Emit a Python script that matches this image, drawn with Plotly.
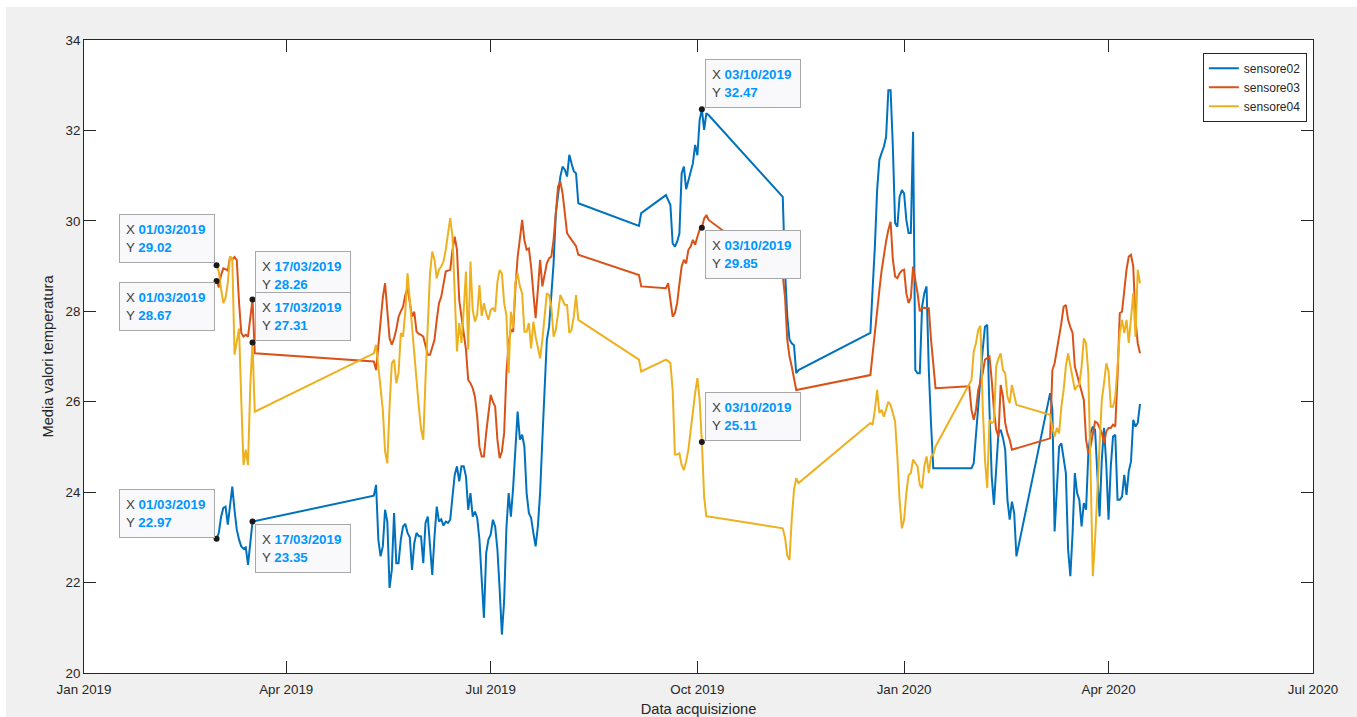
import pandas as pd
import plotly.graph_objects as go

# ---------------- data ----------------
SERIES_NAMES = ["sensore02", "sensore03", "sensore04"]
COLORS = ["#0072BD", "#D95319", "#EDB120"]

# daily readings, grouped in runs of consecutive days: (first day, values)
sensore02_runs = [
    ("2019-03-01", [22.97, 23.1, 23.45, 23.65, 23.68, 23.28, 23.7, 24.12, 23.6, 23.17,
                    22.95, 22.8, 22.75, 22.78, 22.39, 22.9, 23.35]),
    ("2019-05-10", [23.92, 24.16, 22.95, 22.58, 22.8, 23.61, 23.35, 21.88, 22.28, 23.54,
                    22.43, 22.43, 22.95, 23.24, 23.3, 23.1, 23.0, 22.28, 22.87, 23.1,
                    23.03, 23.02, 22.43, 23.32, 23.46, 22.8, 22.17, 23.02, 23.68, 23.35,
                    23.4, 23.26, 23.35, 23.32, 23.39, 23.9, 24.38, 24.57, 24.24, 24.57,
                    24.57, 24.35, 23.61, 23.98, 23.46, 23.57, 23.43, 22.95, 22.21, 21.22,
                    22.65, 22.95, 23.06, 23.39, 23.24, 22.73, 21.84, 20.85, 21.6, 23.2,
                    23.98, 23.46, 24.1, 24.9, 25.78, 25.16, 25.27, 25.01, 23.98, 23.54,
                    23.43, 23.1, 22.8, 23.24, 23.98, 25.16, 26.48, 27.37, 27.66, 28.4,
                    29.06, 30.17, 30.54, 30.98, 31.2, 31.13, 30.98, 31.46, 31.27, 31.1,
                    31.05, 30.39]),
    ("2019-09-05", [29.89, 30.17]),
    ("2019-09-17", [30.57, 30.45, 30.35, 29.5, 29.43, 29.54, 29.72, 31.05, 31.2, 30.7,
                    30.9, 31.05, 31.27, 31.68, 31.45, 32.23, 32.47, 32.01, 32.38, 32.34]),
    ("2019-11-08", [30.53, 28.9, 27.9, 27.37, 27.29, 27.25, 26.63, 26.7]),
    ("2019-12-17", [27.52, 28.5, 29.43, 30.68, 31.35, 31.5, 31.64, 31.86, 32.89, 32.89,
                    31.64, 29.95, 29.87, 30.53, 30.68, 30.61, 30.02, 29.73, 29.73, 31.97,
                    26.7, 26.63, 26.63, 28.1, 28.4, 28.55, 26.7, 25.5, 24.53, 24.53]),
    ("2020-01-31", [24.53, 24.64, 25.3, 26.04, 26.6, 27.15, 27.66, 27.7, 25.82, 24.35,
                    23.72, 24.57, 25.31, 25.38, 25.2, 24.94, 23.83, 23.39, 23.79, 23.54,
                    22.58]),
    ("2020-03-06", [26.19, 25.82, 23.13, 24.12, 25.01, 25.08, 24.72, 24.42, 22.73, 22.14,
                    23.1, 24.42, 23.98, 23.83, 23.24, 23.76, 23.61, 24.86, 25.31, 25.45,
                    25.38, 24.42, 23.46, 24.72, 25.42, 24.6, 23.39, 24.57, 25.23, 25.27,
                    23.83, 23.83, 23.9, 24.38, 23.94, 24.46, 24.68, 25.6, 25.45, 25.53,
                    25.95]),
]

sensore03_runs = [
    ("2019-03-01", [28.67, 28.53, 28.8, 28.95, 28.93, 28.9, 29.21, 29.15, 29.2, 29.13,
                    28.2, 27.52, 27.44, 27.48, 27.44, 27.9, 28.26, 27.07]),
    ("2019-05-10", [26.89, 26.7, 27.3, 27.9, 28.3, 28.62, 27.9, 27.4, 27.26, 27.4,
                    27.6, 27.88, 28.0, 28.1, 28.36, 28.51, 28.2, 27.88, 27.99, 27.55,
                    27.5, 27.48, 27.44, 27.2, 27.04, 27.04, 27.2, 27.37, 27.81, 28.18,
                    28.32, 28.6, 28.88, 28.9, 28.92, 29.36, 29.65, 29.36, 28.25, 27.88,
                    27.5, 27.15, 26.48, 26.41, 26.3, 26.11, 25.67, 25.0, 24.79, 24.79,
                    25.31, 25.7, 26.15, 26.0, 25.89, 25.16, 24.75, 24.9, 25.31, 26.63,
                    27.3, 27.59, 27.55, 28.5, 29.2, 29.6, 30.02, 29.58, 29.36, 29.39,
                    28.99, 28.4, 27.85, 28.47, 29.14, 28.55, 28.77, 29.06, 29.17, 29.21,
                    29.58, 30.24, 30.76, 30.87, 30.61, 30.17, 29.73, 29.65, 29.58, 29.5,
                    29.44, 29.25]),
    ("2019-09-05", [28.8, 28.55]),
    ("2019-09-17", [28.51, 28.62, 28.18, 27.88, 27.96, 28.18, 28.6, 28.99, 29.14, 29.06,
                    29.36, 29.43, 29.58, 29.47, 29.65, 29.8, 29.85, 30.05, 30.13, 30.02]),
    ("2019-11-08", [28.8, 28.32, 27.37, 27.0, 26.78, 26.5, 26.26]),
    ("2019-12-17", [26.59, 27.1, 27.59, 28.0, 28.47, 28.9, 29.28, 29.55, 29.8, 29.98,
                    29.14, 28.77, 28.73, 28.84, 28.9, 28.92, 28.4, 28.18, 28.3, 28.99,
                    28.69, 28.4, 28.0, 28.07, 28.08, 28.08, 28.07, 27.37, 26.8, 26.3]),
    ("2020-01-30", [26.34, 25.82, 25.6, 25.82, 26.26, 26.45, 26.63, 26.93, 26.97, 27.0,
                    26.48, 25.82, 25.38, 25.23, 26.37, 26.11, 25.53, 25.3, 25.16, 24.94]),
    ("2020-03-06", [25.19, 26.7, 26.85, 27.2, 27.44, 27.74, 28.1, 28.14, 27.81, 27.65,
                    27.52, 26.78, 26.6, 26.41, 26.2, 26.04, 25.16, 24.86, 25.01, 25.31,
                    25.56, 25.53, 25.4, 25.31, 25.08, 25.34, 25.42, 25.42, 25.49, 25.45,
                    26.56, 27.96, 27.99, 28.47, 28.92, 29.21, 29.25, 28.99, 27.81, 27.29,
                    27.07]),
]

sensore04_runs = [
    ("2019-03-01", [29.02, 28.88, 28.5, 28.18, 28.3, 28.62, 29.21, 29.17, 27.04, 27.29,
                    27.62, 26.04, 24.6, 24.94, 24.6, 26.34, 27.31, 25.78]),
    ("2019-05-10", [27.07, 27.26, 26.78, 26.3, 25.82, 24.9, 24.64, 25.9, 26.85, 26.93,
                    26.41, 26.63, 27.52, 27.44, 28.0, 28.84, 28.25, 27.6, 26.9, 26.34,
                    25.9, 25.4, 25.16, 26.5, 27.88, 28.84, 29.32, 29.14, 28.73, 28.92,
                    28.99, 29.1, 29.36, 29.73, 30.06, 29.65, 28.55, 27.11, 27.74, 27.3,
                    28.03, 28.88, 27.15, 29.1, 28.03, 27.77, 27.92, 28.58, 27.9, 28.18,
                    27.96, 27.81, 28.03, 28.07, 27.99, 28.65, 28.91, 28.84, 28.18, 27.92,
                    26.63, 27.99, 27.63, 28.65, 28.84, 28.55, 28.4, 27.55, 27.55, 27.74,
                    27.18, 27.77, 27.44, 27.2, 26.96, 27.37, 27.88, 28.4, 28.36, 28.1,
                    27.44, 27.59, 27.96, 28.36, 28.25, 28.14, 28.14, 27.52, 27.59, 27.88,
                    28.36, 27.81]),
    ("2019-09-05", [26.93, 26.67]),
    ("2019-09-17", [26.93, 26.9, 26.85, 26.26, 24.83, 24.83, 24.86, 24.6, 24.49, 24.68,
                    24.94, 25.38, 25.75, 26.19, 26.52, 26.04, 25.11, 23.9, 23.46, 23.46]),
    ("2019-11-08", [23.2, 23.0, 22.6, 22.5, 23.4, 24.05, 24.31, 24.2]),
    ("2019-12-17", [25.53, 25.49, 25.82, 26.26, 25.75, 25.82, 25.67, 25.85, 26.0, 25.93,
                    25.75, 25.56, 24.79, 23.83, 23.2, 23.39, 23.98, 24.38, 24.42, 24.72,
                    24.64, 24.57, 24.16, 24.09, 24.57, 24.79, 24.42, 24.79, 24.83, 25.01]),
    ("2020-01-31", [26.48, 27.11, 27.3, 27.59, 27.68, 25.89, 24.72, 24.09, 25.6, 25.53,
                    25.56, 26.78, 26.96, 27.07, 26.7, 26.63, 26.11, 25.97, 26.37, 26.11,
                    25.93]),
    ("2020-03-06", [25.71, 25.42, 25.23, 25.42, 25.3, 25.89, 26.26, 26.78, 27.07, 26.78,
                    26.56, 26.26, 26.34, 26.37, 26.78, 27.4, 27.29, 26.63, 24.5, 22.14,
                    22.95, 23.98, 25.3, 26.04, 26.41, 26.85, 26.67, 25.89, 25.89, 26.11,
                    26.78, 27.52, 27.81, 27.52, 27.81, 27.3, 27.85, 28.4, 27.44, 28.92,
                    28.62]),
]

# data tips: (series, date)
tip_series = ["sensore04", "sensore03", "sensore03", "sensore04", "sensore02",
              "sensore02", "sensore02", "sensore03", "sensore04"]
tip_dates = ["2019-03-01", "2019-03-01", "2019-03-17", "2019-03-17", "2019-03-01",
             "2019-03-17", "2019-10-03", "2019-10-03", "2019-10-03"]

x_tick_dates = ["2019-01-01", "2019-04-01", "2019-07-01", "2019-10-01",
                "2020-01-01", "2020-04-01", "2020-07-01"]
x_tick_labels = ["Jan 2019", "Apr 2019", "Jul 2019", "Oct 2019",
                 "Jan 2020", "Apr 2020", "Jul 2020"]
y_ticks = [20, 22, 24, 26, 28, 30, 32, 34]

# --------------- build ---------------
def build(runs):
    parts = []
    for start, vals in runs:
        idx = pd.date_range(start, periods=len(vals), freq="D")
        parts.append(pd.Series(vals, index=idx))
    return pd.concat(parts)

series = {
    "sensore02": build(sensore02_runs),
    "sensore03": build(sensore03_runs),
    "sensore04": build(sensore04_runs),
}

fig = go.Figure()
for name, color in zip(SERIES_NAMES, COLORS):
    s = series[name]
    fig.add_trace(go.Scatter(x=s.index, y=s.values, mode="lines", name=name,
                             line=dict(color=color, width=2)))

tip_x = [pd.Timestamp(d) for d in tip_dates]
tip_y = [float(series[n].loc[pd.Timestamp(d)]) for n, d in zip(tip_series, tip_dates)]
fig.add_trace(go.Scatter(x=tip_x, y=tip_y, mode="markers", showlegend=False,
                         marker=dict(color="#1a1a1a", size=6)))

# placement style of each tip box
tip_style = [("right", "bottom", -2, 2), ("right", "top", -2, -1),
             ("left", "bottom", 2, 0), ("left", "bottom", 2, 1),
             ("right", "bottom", -2, 1), ("left", "top", 2, -2),
             ("left", "bottom", 3, 1), ("left", "top", 3, -2),
             ("left", "bottom", 3, 1)]
BLUE = "#0096FF"
for x, y, (xa, ya, xs, ys) in zip(tip_x, tip_y, tip_style):
    txt = (f"X <span style='color:{BLUE}'><b>{x.strftime('%d/%m/%Y')}</b></span><br>"
           f"Y <span style='color:{BLUE}'><b>{y:.2f}</b></span>")
    fig.add_annotation(x=x, y=y, xref="x", yref="y", text=txt, showarrow=False,
                       xanchor=xa, yanchor=ya, xshift=xs, yshift=ys,
                       align="left", width=82, height=35,
                       bgcolor="#f9f9fc", bordercolor="#a8a8a8", borderwidth=1,
                       borderpad=6,
                       font=dict(family="Liberation Sans, Arial", size=13.33,
                                 color="#404040"))

ML, MR, MT, MB = 84, 44, 40, 44
W, H = 1357, 717
PW, PH = W - ML - MR, H - MT - MB

axis_common = dict(showline=True, linecolor="#262626", linewidth=1, mirror="ticks",
                   ticks="inside", ticklen=12, tickwidth=1, tickcolor="#262626",
                   showgrid=False, zeroline=False, automargin=False,
                   tickfont=dict(size=13.33, color="#262626"))

fig.update_layout(
    width=W, height=H,
    margin=dict(l=ML, r=MR, t=MT, b=MB),
    paper_bgcolor="#f0f0f0", plot_bgcolor="white",
    font=dict(family="Liberation Sans, Arial", color="#262626"),
    xaxis=dict(type="date", range=[x_tick_dates[0], x_tick_dates[-1]],
               tickvals=x_tick_dates, ticktext=x_tick_labels,
               ticklabelstandoff=4,
               title=dict(text="Data acquisizione", font=dict(size=14.67), standoff=10),
               **axis_common),
    yaxis=dict(range=[y_ticks[0], y_ticks[-1]], tickvals=y_ticks,
               title=dict(text="Media valori temperatura", font=dict(size=14.67), standoff=8),
               **axis_common),
    legend=dict(x=0.995, xanchor="right", y=0.98, yanchor="top",
                bgcolor="white", bordercolor="#262626", borderwidth=1,
                font=dict(size=12, color="#262626"), tracegroupgap=0),
    shapes=[
        dict(type="rect", xref="paper", yref="paper", layer="below",
             x0=-ML / PW, x1=(6 - ML) / PW, y0=-MB / PH, y1=1 + MT / PH,
             fillcolor="white", line=dict(width=0)),
        dict(type="rect", xref="paper", yref="paper", layer="below",
             x0=-ML / PW, x1=1 + MR / PW, y0=1 + (MT - 7) / PH, y1=1 + MT / PH,
             fillcolor="white", line=dict(width=0)),
    ],
)

fig.write_html("out.html", config={"displayModeBar": False})
